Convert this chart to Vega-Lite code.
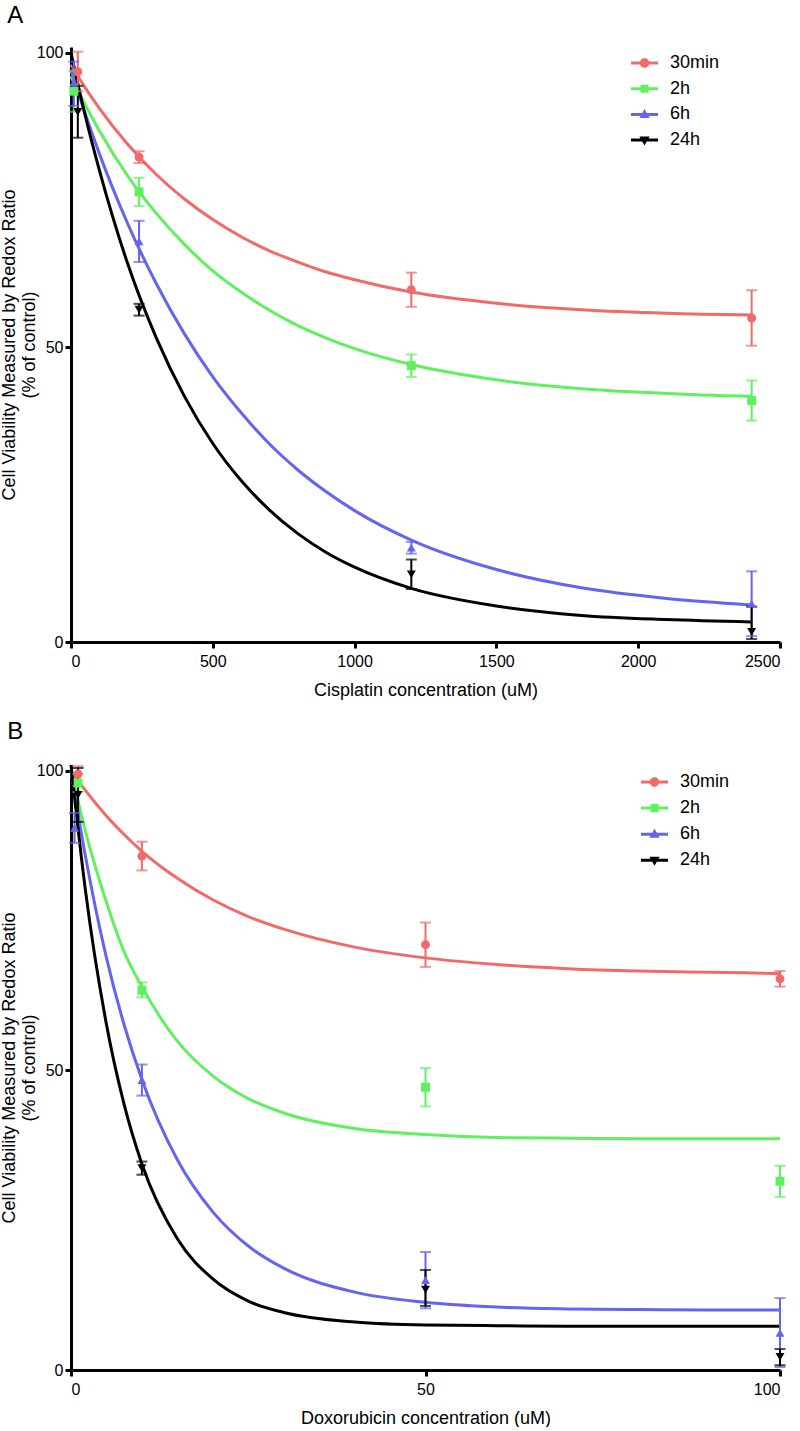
{
  "$schema": "https://vega.github.io/schema/vega-lite/v6.json",
  "background": "white",
  "padding": {"left": 0, "top": 3, "right": 0, "bottom": 0},
  "spacing": 123,
  "bounds": "flush",
  "datasets": {
    "ptsA": [
      {"group": "30min", "x": 24, "y": 96.8, "lo": 93.5, "hi": 100.2},
      {"group": "30min", "x": 240, "y": 82.3, "lo": 81.3, "hi": 83.3},
      {"group": "30min", "x": 1200, "y": 59.8, "lo": 56.9, "hi": 62.7},
      {"group": "30min", "x": 2400, "y": 55.0, "lo": 50.3, "hi": 59.7},
      {"group": "2h", "x": 10, "y": 93.5, "lo": 90.0, "hi": 97.0},
      {"group": "2h", "x": 240, "y": 76.4, "lo": 74.0, "hi": 78.8},
      {"group": "2h", "x": 1200, "y": 46.9, "lo": 45.0, "hi": 48.8},
      {"group": "2h", "x": 2400, "y": 41.0, "lo": 37.6, "hi": 44.4},
      {"group": "6h", "x": 10, "y": 95.0, "lo": 91.0, "hi": 98.5},
      {"group": "6h", "x": 240, "y": 68.0, "lo": 64.5, "hi": 71.5},
      {"group": "6h", "x": 1200, "y": 16.0, "lo": 15.0, "hi": 17.0},
      {"group": "6h", "x": 2400, "y": 6.5, "lo": 1.0, "hi": 12.0},
      {"group": "24h", "x": 24, "y": 90.0, "lo": 85.6, "hi": 94.4},
      {"group": "24h", "x": 240, "y": 56.4, "lo": 55.4, "hi": 57.4},
      {"group": "24h", "x": 1200, "y": 11.5, "lo": 9.0, "hi": 14.0},
      {"group": "24h", "x": 2400, "y": 1.7, "lo": 0.5, "hi": 6.0}
    ],
    "fitA": [
      {"series": "30min", "x": 0, "y": 98.0}, {"series": "30min", "x": 50, "y": 94.1}, {"series": "30min", "x": 100, "y": 90.6}, {"series": "30min", "x": 200, "y": 84.5}, {"series": "30min", "x": 300, "y": 79.4}, {"series": "30min", "x": 400, "y": 75.2}, {"series": "30min", "x": 500, "y": 71.7}, {"series": "30min", "x": 600, "y": 68.8}, {"series": "30min", "x": 700, "y": 66.4}, {"series": "30min", "x": 800, "y": 64.5}, {"series": "30min", "x": 900, "y": 62.8}, {"series": "30min", "x": 1000, "y": 61.5}, {"series": "30min", "x": 1200, "y": 59.4}, {"series": "30min", "x": 1500, "y": 57.5}, {"series": "30min", "x": 1800, "y": 56.4}, {"series": "30min", "x": 2100, "y": 55.8}, {"series": "30min", "x": 2400, "y": 55.5},
      {"series": "2h", "x": 0, "y": 96.0}, {"series": "2h", "x": 50, "y": 91.2}, {"series": "2h", "x": 100, "y": 86.8}, {"series": "2h", "x": 200, "y": 79.1}, {"series": "2h", "x": 300, "y": 72.8}, {"series": "2h", "x": 400, "y": 67.5}, {"series": "2h", "x": 500, "y": 63.0}, {"series": "2h", "x": 600, "y": 59.4}, {"series": "2h", "x": 700, "y": 56.3}, {"series": "2h", "x": 800, "y": 53.7}, {"series": "2h", "x": 900, "y": 51.6}, {"series": "2h", "x": 1000, "y": 49.8}, {"series": "2h", "x": 1200, "y": 47.1}, {"series": "2h", "x": 1500, "y": 44.5}, {"series": "2h", "x": 1800, "y": 43.0}, {"series": "2h", "x": 2100, "y": 42.2}, {"series": "2h", "x": 2400, "y": 41.7},
      {"series": "6h", "x": 0, "y": 97.0}, {"series": "6h", "x": 50, "y": 89.7}, {"series": "6h", "x": 100, "y": 82.9}, {"series": "6h", "x": 200, "y": 71.0}, {"series": "6h", "x": 300, "y": 60.9}, {"series": "6h", "x": 400, "y": 52.3}, {"series": "6h", "x": 500, "y": 45.0}, {"series": "6h", "x": 600, "y": 38.9}, {"series": "6h", "x": 700, "y": 33.6}, {"series": "6h", "x": 800, "y": 29.2}, {"series": "6h", "x": 900, "y": 25.5}, {"series": "6h", "x": 1000, "y": 22.3}, {"series": "6h", "x": 1200, "y": 17.3}, {"series": "6h", "x": 1500, "y": 12.3}, {"series": "6h", "x": 1800, "y": 9.2}, {"series": "6h", "x": 2100, "y": 7.4}, {"series": "6h", "x": 2400, "y": 6.3},
      {"series": "24h", "x": 0, "y": 100.0}, {"series": "24h", "x": 50, "y": 89.4}, {"series": "24h", "x": 100, "y": 80.1}, {"series": "24h", "x": 200, "y": 64.2}, {"series": "24h", "x": 300, "y": 51.7}, {"series": "24h", "x": 400, "y": 41.7}, {"series": "24h", "x": 500, "y": 33.7}, {"series": "24h", "x": 600, "y": 27.4}, {"series": "24h", "x": 700, "y": 22.4}, {"series": "24h", "x": 800, "y": 18.4}, {"series": "24h", "x": 900, "y": 15.2}, {"series": "24h", "x": 1000, "y": 12.7}, {"series": "24h", "x": 1200, "y": 9.1}, {"series": "24h", "x": 1500, "y": 6.1}, {"series": "24h", "x": 1800, "y": 4.5}, {"series": "24h", "x": 2100, "y": 3.8}, {"series": "24h", "x": 2400, "y": 3.4}
    ],
    "ptsB": [
      {"group": "30min", "x": 1, "y": 99.5, "lo": 97.5, "hi": 100.8},
      {"group": "30min", "x": 10, "y": 85.8, "lo": 83.4, "hi": 88.2},
      {"group": "30min", "x": 50, "y": 71.0, "lo": 67.3, "hi": 74.7},
      {"group": "30min", "x": 100, "y": 65.3, "lo": 64.0, "hi": 66.6},
      {"group": "2h", "x": 1, "y": 98.0, "lo": 96.5, "hi": 99.5},
      {"group": "2h", "x": 10, "y": 63.4, "lo": 62.2, "hi": 64.7},
      {"group": "2h", "x": 50, "y": 47.2, "lo": 44.0, "hi": 50.4},
      {"group": "2h", "x": 100, "y": 31.5, "lo": 28.9, "hi": 34.1},
      {"group": "6h", "x": 0.5, "y": 90.5, "lo": 88.0, "hi": 93.0},
      {"group": "6h", "x": 10, "y": 48.4, "lo": 45.8, "hi": 51.0},
      {"group": "6h", "x": 50, "y": 15.0, "lo": 10.3, "hi": 19.7},
      {"group": "6h", "x": 100, "y": 6.2, "lo": 0.5, "hi": 12.0},
      {"group": "24h", "x": 1, "y": 96.0, "lo": 91.5, "hi": 100.5},
      {"group": "24h", "x": 10, "y": 33.7, "lo": 32.6, "hi": 34.8},
      {"group": "24h", "x": 50, "y": 13.4, "lo": 10.7, "hi": 16.7},
      {"group": "24h", "x": 100, "y": 2.2, "lo": 0.8, "hi": 3.5}
    ],
    "fitB": [
      {"series": "30min", "x": 0, "y": 100.0}, {"series": "30min", "x": 2, "y": 96.8}, {"series": "30min", "x": 5, "y": 92.5}, {"series": "30min", "x": 7.5, "y": 89.4}, {"series": "30min", "x": 10, "y": 86.6}, {"series": "30min", "x": 15, "y": 82.1}, {"series": "30min", "x": 20, "y": 78.5}, {"series": "30min", "x": 25, "y": 75.7}, {"series": "30min", "x": 30, "y": 73.6}, {"series": "30min", "x": 40, "y": 70.6}, {"series": "30min", "x": 50, "y": 68.8}, {"series": "30min", "x": 60, "y": 67.7}, {"series": "30min", "x": 70, "y": 67.0}, {"series": "30min", "x": 80, "y": 66.6}, {"series": "30min", "x": 90, "y": 66.4}, {"series": "30min", "x": 100, "y": 66.2},
      {"series": "2h", "x": 0, "y": 100.0}, {"series": "2h", "x": 2, "y": 90.1}, {"series": "2h", "x": 5, "y": 78.1}, {"series": "2h", "x": 7.5, "y": 69.8}, {"series": "2h", "x": 10, "y": 64.0}, {"series": "2h", "x": 15, "y": 54.9}, {"series": "2h", "x": 20, "y": 49.1}, {"series": "2h", "x": 25, "y": 45.3}, {"series": "2h", "x": 30, "y": 42.9}, {"series": "2h", "x": 40, "y": 40.3}, {"series": "2h", "x": 50, "y": 39.3}, {"series": "2h", "x": 60, "y": 38.8}, {"series": "2h", "x": 70, "y": 38.7}, {"series": "2h", "x": 80, "y": 38.6}, {"series": "2h", "x": 90, "y": 38.6}, {"series": "2h", "x": 100, "y": 38.6},
      {"series": "6h", "x": 0, "y": 100.0}, {"series": "6h", "x": 2, "y": 86.0}, {"series": "6h", "x": 5, "y": 68.8}, {"series": "6h", "x": 7.5, "y": 57.6}, {"series": "6h", "x": 10, "y": 48.5}, {"series": "6h", "x": 15, "y": 35.1}, {"series": "6h", "x": 20, "y": 26.4}, {"series": "6h", "x": 25, "y": 20.7}, {"series": "6h", "x": 30, "y": 17.0}, {"series": "6h", "x": 40, "y": 13.0}, {"series": "6h", "x": 50, "y": 11.3}, {"series": "6h", "x": 60, "y": 10.5}, {"series": "6h", "x": 70, "y": 10.2}, {"series": "6h", "x": 80, "y": 10.1}, {"series": "6h", "x": 90, "y": 10.0}, {"series": "6h", "x": 100, "y": 10.0},
      {"series": "24h", "x": 0, "y": 101.0}, {"series": "24h", "x": 2, "y": 80.4}, {"series": "24h", "x": 5, "y": 57.7}, {"series": "24h", "x": 7.5, "y": 44.3}, {"series": "24h", "x": 10, "y": 34.4}, {"series": "24h", "x": 15, "y": 21.9}, {"series": "24h", "x": 20, "y": 15.2}, {"series": "24h", "x": 25, "y": 11.5}, {"series": "24h", "x": 30, "y": 9.6}, {"series": "24h", "x": 40, "y": 8.0}, {"series": "24h", "x": 50, "y": 7.5}, {"series": "24h", "x": 60, "y": 7.4}, {"series": "24h", "x": 70, "y": 7.3}, {"series": "24h", "x": 80, "y": 7.3}, {"series": "24h", "x": 90, "y": 7.3}, {"series": "24h", "x": 100, "y": 7.3}
    ]
  },
  "resolve": {
    "scale": {"x": "independent", "y": "independent"},
    "legend": {"stroke": "independent", "fill": "independent", "shape": "independent", "color": "independent"}
  },
  "vconcat": [
    {
      "title": {"text": "A", "offset": 17},
      "width": 709,
      "height": 595,
      "layer": [
        {
          "data": {"name": "fitA"},
          "mark": {"type": "line", "strokeWidth": 3, "interpolate": "monotone"},
          "encoding": {
            "x": {"field": "x", "type": "quantitative", "scale": {"domain": [0, 2500], "nice": false}, "axis": {"values": [0, 500, 1000, 1500, 2000, 2500], "format": "d", "title": "Cisplatin concentration (uM)"}},
            "y": {"field": "y", "type": "quantitative", "scale": {"domain": [0, 101], "nice": false}, "axis": {"values": [0, 50, 100], "format": "d", "title": ["Cell Viability Measured by Redox Ratio", "(% of control)"]}},
            "stroke": {"field": "series", "type": "nominal", "sort": ["30min", "2h", "6h", "24h"], "scale": {"range": ["#f06a6a", "#5ff05f", "#6464f0", "#000000"]},
              "legend": {"orient": "none", "legendX": 560, "legendY": 2.5, "title": null, "symbolSize": 729, "symbolStrokeWidth": 0, "labelOffset": 12, "rowPadding": 2.7, "padding": 0,
                "encode": {"symbols": {"update": {
                  "shape": {"signal": "datum.value === '30min' ? 'M-1,-0.11H1V0.11H-1Z M0.35,0A0.35,0.35 0 1,1 -0.35,0A0.35,0.35 0 1,1 0.35,0Z' : datum.value === '2h' ? 'M-1,-0.11H1V0.11H-1Z M-0.3,-0.3H0.3V0.3H-0.3Z' : datum.value === '6h' ? 'M-1,-0.11H1V0.11H-1Z M0,-0.4L0.38,0.26H-0.38Z' : 'M-1,-0.11H1V0.11H-1Z M0,0.4L-0.38,-0.26H0.38Z'"},
                  "fill": {"signal": "datum.value === '30min' ? '#f06a6a' : datum.value === '2h' ? '#5ff05f' : datum.value === '6h' ? '#6464f0' : '#000000'"},
                  "strokeWidth": {"value": 0},
                  "opacity": {"value": 1}
                }}}}}
          }
        },
        {
          "data": {"name": "ptsA"},
          "mark": {"type": "rule", "strokeWidth": 2},
          "encoding": {
            "x": {"field": "x", "type": "quantitative"},
            "y": {"field": "lo", "type": "quantitative"},
            "y2": {"field": "hi"},
            "color": {"field": "group", "type": "nominal", "sort": ["30min", "2h", "6h", "24h"], "scale": {"range": ["#f06a6a", "#5ff05f", "#6464f0", "#000000"]}, "legend": null}
          }
        },
        {
          "data": {"name": "ptsA"},
          "mark": {"type": "tick", "orient": "horizontal", "size": 11, "thickness": 2},
          "encoding": {
            "x": {"field": "x", "type": "quantitative"},
            "y": {"field": "lo", "type": "quantitative"},
            "color": {"field": "group", "type": "nominal", "sort": ["30min", "2h", "6h", "24h"], "legend": null}
          }
        },
        {
          "data": {"name": "ptsA"},
          "mark": {"type": "tick", "orient": "horizontal", "size": 11, "thickness": 2},
          "encoding": {
            "x": {"field": "x", "type": "quantitative"},
            "y": {"field": "hi", "type": "quantitative"},
            "color": {"field": "group", "type": "nominal", "sort": ["30min", "2h", "6h", "24h"], "legend": null}
          }
        },
        {
          "data": {"name": "ptsA"},
          "mark": {"type": "point", "filled": true, "size": 80, "opacity": 1},
          "encoding": {
            "x": {"field": "x", "type": "quantitative"},
            "y": {"field": "y", "type": "quantitative"},
            "fill": {"field": "group", "type": "nominal", "sort": ["30min", "2h", "6h", "24h"], "scale": {"range": ["#f06a6a", "#5ff05f", "#6464f0", "#000000"]}, "legend": null},
            "shape": {"field": "group", "type": "nominal", "sort": ["30min", "2h", "6h", "24h"], "scale": {"range": ["circle", "square", "triangle-up", "triangle-down"]}, "legend": null}
          }
        }
      ]
    },
    {
      "title": {"text": "B", "offset": 15},
      "width": 709,
      "height": 605,
      "layer": [
        {
          "data": {"name": "fitB"},
          "mark": {"type": "line", "strokeWidth": 3, "interpolate": "monotone"},
          "encoding": {
            "x": {"field": "x", "type": "quantitative", "scale": {"domain": [0, 100], "nice": false}, "axis": {"values": [0, 50, 100], "format": "d", "title": "Doxorubicin concentration (uM)"}},
            "y": {"field": "y", "type": "quantitative", "scale": {"domain": [0, 101], "nice": false}, "axis": {"values": [0, 50, 100], "format": "d", "title": ["Cell Viability Measured by Redox Ratio", "(% of control)"]}},
            "stroke": {"field": "series", "type": "nominal", "sort": ["30min", "2h", "6h", "24h"], "scale": {"range": ["#f06a6a", "#5ff05f", "#6464f0", "#000000"]},
              "legend": {"orient": "none", "legendX": 570, "legendY": 3.5, "title": null, "symbolSize": 729, "symbolStrokeWidth": 0, "labelOffset": 12, "rowPadding": 3.1, "padding": 0,
                "encode": {"symbols": {"update": {
                  "shape": {"signal": "datum.value === '30min' ? 'M-1,-0.11H1V0.11H-1Z M0.35,0A0.35,0.35 0 1,1 -0.35,0A0.35,0.35 0 1,1 0.35,0Z' : datum.value === '2h' ? 'M-1,-0.11H1V0.11H-1Z M-0.3,-0.3H0.3V0.3H-0.3Z' : datum.value === '6h' ? 'M-1,-0.11H1V0.11H-1Z M0,-0.4L0.38,0.26H-0.38Z' : 'M-1,-0.11H1V0.11H-1Z M0,0.4L-0.38,-0.26H0.38Z'"},
                  "fill": {"signal": "datum.value === '30min' ? '#f06a6a' : datum.value === '2h' ? '#5ff05f' : datum.value === '6h' ? '#6464f0' : '#000000'"},
                  "strokeWidth": {"value": 0},
                  "opacity": {"value": 1}
                }}}}}
          }
        },
        {
          "data": {"name": "ptsB"},
          "mark": {"type": "rule", "strokeWidth": 2},
          "encoding": {
            "x": {"field": "x", "type": "quantitative"},
            "y": {"field": "lo", "type": "quantitative"},
            "y2": {"field": "hi"},
            "color": {"field": "group", "type": "nominal", "sort": ["30min", "2h", "6h", "24h"], "scale": {"range": ["#f06a6a", "#5ff05f", "#6464f0", "#000000"]}, "legend": null}
          }
        },
        {
          "data": {"name": "ptsB"},
          "mark": {"type": "tick", "orient": "horizontal", "size": 11, "thickness": 2},
          "encoding": {
            "x": {"field": "x", "type": "quantitative"},
            "y": {"field": "lo", "type": "quantitative"},
            "color": {"field": "group", "type": "nominal", "sort": ["30min", "2h", "6h", "24h"], "legend": null}
          }
        },
        {
          "data": {"name": "ptsB"},
          "mark": {"type": "tick", "orient": "horizontal", "size": 11, "thickness": 2},
          "encoding": {
            "x": {"field": "x", "type": "quantitative"},
            "y": {"field": "hi", "type": "quantitative"},
            "color": {"field": "group", "type": "nominal", "sort": ["30min", "2h", "6h", "24h"], "legend": null}
          }
        },
        {
          "data": {"name": "ptsB"},
          "mark": {"type": "point", "filled": true, "size": 80, "opacity": 1},
          "encoding": {
            "x": {"field": "x", "type": "quantitative"},
            "y": {"field": "y", "type": "quantitative"},
            "fill": {"field": "group", "type": "nominal", "sort": ["30min", "2h", "6h", "24h"], "scale": {"range": ["#f06a6a", "#5ff05f", "#6464f0", "#000000"]}, "legend": null},
            "shape": {"field": "group", "type": "nominal", "sort": ["30min", "2h", "6h", "24h"], "scale": {"range": ["circle", "square", "triangle-up", "triangle-down"]}, "legend": null}
          }
        }
      ]
    }
  ],
  "config": {
    "view": {"stroke": null},
    "font": "Liberation Sans",
    "axis": {
      "grid": false,
      "domainColor": "black", "domainWidth": 3,
      "tickColor": "black", "tickWidth": 3, "tickSize": 6,
      "labelFont": "Liberation Sans", "labelFontSize": 16, "labelColor": "black",
      "titleFont": "Liberation Sans", "titleFontSize": 18, "titleFontWeight": "normal", "titleColor": "black"
    },
    "axisX": {"labelPadding": 5, "titlePadding": 12},
    "axisY": {"labelPadding": 2, "titlePadding": -2, "titleLineHeight": 20},
    "legend": {"labelFont": "Liberation Sans", "labelFontSize": 18, "labelColor": "black", "labelLimit": 0},
    "title": {"font": "Liberation Sans", "fontSize": 24, "fontWeight": "normal", "color": "black", "anchor": "start", "frame": "bounds", "dx": 7}
  }
}
